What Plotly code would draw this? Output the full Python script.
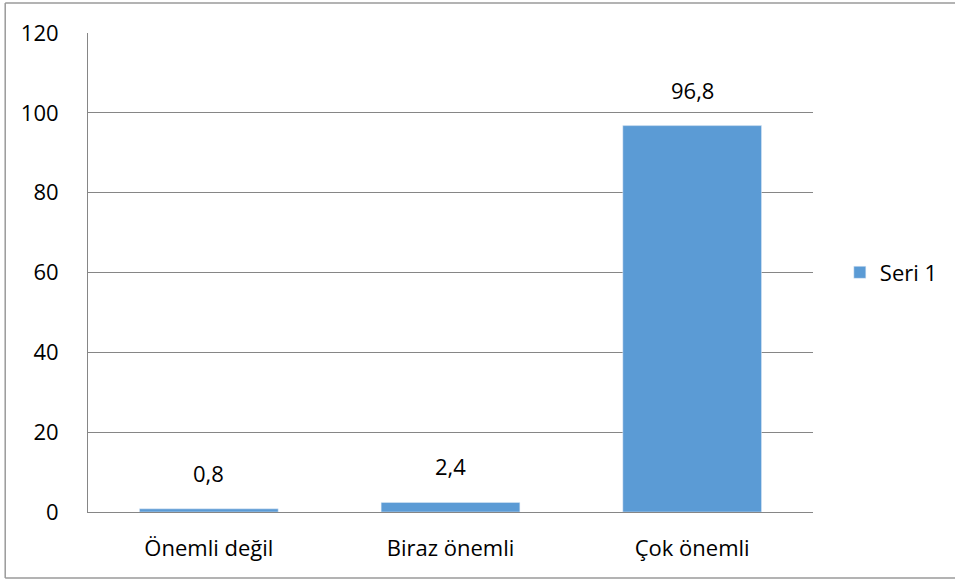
import plotly.graph_objects as go

categories = ["Önemli değil", "Biraz önemli", "Çok önemli"]
values = [0.8, 2.4, 96.8]
series_name = "Seri 1"
y_ticks = [0, 20, 40, 60, 80, 100, 120]

BAR_COLOR = "#5B9BD5"
GRID_COLOR = "#868686"
BORDER_COLOR = "#9a9a9a"
FONT = "Open Sans"
FSIZE = 22

fig = go.Figure(go.Bar(
    x=categories,
    y=values,
    name=series_name,
    marker_color=BAR_COLOR,
    showlegend=True,
))

# data labels sit a bit above each bar, with decimal comma
for c, v in zip(categories, values):
    fig.add_annotation(
        x=c, y=v, text=str(v).replace(".", ","),
        showarrow=False, yanchor="middle", yshift=36,
        font=dict(family=FONT, size=FSIZE, color="black"),
    )

# outer chart border (open on the right, it runs off the picture)
bx0, bx1, by0, by1 = -0.1142, 1.3, -0.1378, 1.0626
for x0, y0, x1, y1 in [(bx0, by0, bx0, by1), (bx0, by1, bx1, by1), (bx0, by0, bx1, by0)]:
    fig.add_shape(type="line", xref="paper", yref="paper",
                  x0=x0, y0=y0, x1=x1, y1=y1,
                  line=dict(color=BORDER_COLOR, width=1.5))

fig.update_layout(
    width=955, height=580,
    margin=dict(l=88, r=137, t=33, b=68),
    plot_bgcolor="white",
    paper_bgcolor="white",
    bargap=0.426,
    font=dict(family=FONT, size=FSIZE, color="black"),
    legend=dict(x=1.037, y=0.5, yanchor="middle", xanchor="left",
                font=dict(size=FSIZE), itemwidth=30),
)

fig.update_yaxes(
    range=[0, 120], tickvals=y_ticks,
    showgrid=True, gridcolor=GRID_COLOR, gridwidth=1,
    showline=True, linecolor=GRID_COLOR, linewidth=1,
    zeroline=False, ticks="", ticklabelstandoff=24,
)
fig.update_xaxes(
    showline=True, linecolor=GRID_COLOR, linewidth=1,
    ticks="", ticklabelstandoff=17,
)

fig.write_html("out.html", config={"displayModeBar": False},
               post_script="document.body.style.margin='0';")
